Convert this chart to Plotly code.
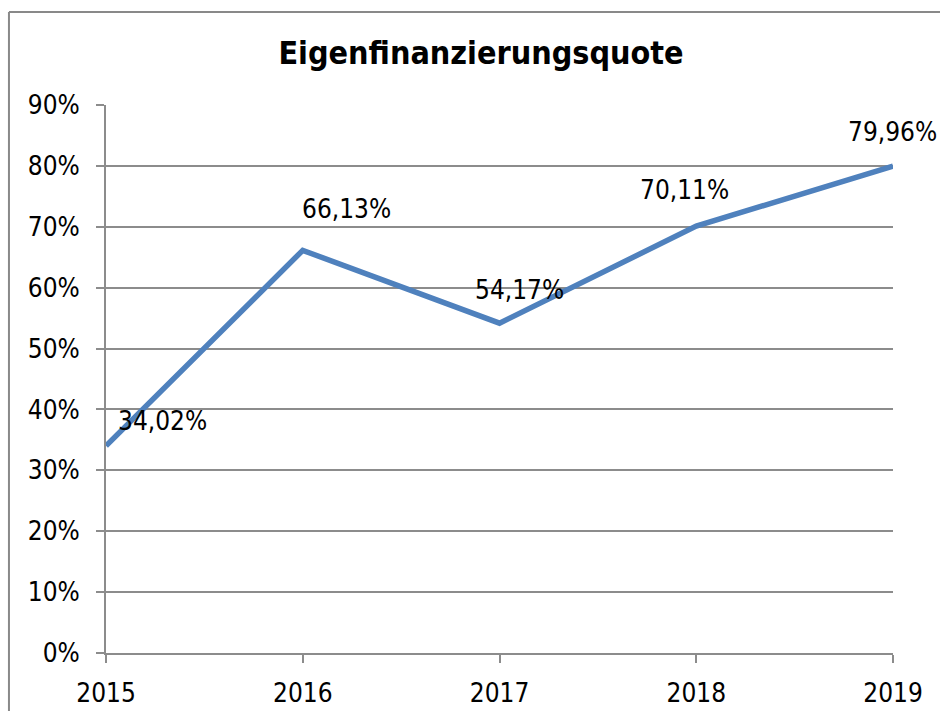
import plotly.graph_objects as go

# Eigenfinanzierungsquote je Jahr (in %)
years = [2015, 2016, 2017, 2018, 2019]
quote = [34.02, 66.13, 54.17, 70.11, 79.96]
y_ticks = [0, 10, 20, 30, 40, 50, 60, 70, 80, 90]
y_tick_labels = [f"{v}%" for v in y_ticks]

# manual placement of the value labels (pixel offsets from each point)
label_dx = [56, 44, 20, -12, -1]
label_dy = [25, 41, 33, 36, 34]

FONT = "DejaVu Sans Condensed, DejaVu Sans, Tahoma, sans-serif"
GRID = "#8c8c8c"

fig = go.Figure()
fig.add_trace(go.Scatter(
    x=years, y=quote, mode="lines",
    line=dict(color="#4F81BD", width=5.5),
    hoverinfo="skip", showlegend=False,
))

for x, y, dx, dy in zip(years, quote, label_dx, label_dy):
    fig.add_annotation(
        x=x, y=y, text=f"{y:.2f}%".replace(".", ","),
        showarrow=False, xshift=dx, yshift=dy,
        xanchor="center", yanchor="middle",
        font=dict(family=FONT, size=26, color="#000000"),
    )

# chart frame (left and top edges)
fig.add_shape(type="line", xref="paper", yref="paper",
              x0=-0.1233, x1=-0.1233, y0=-0.2, y1=1.1697,
              line=dict(color="#898989", width=2))
fig.add_shape(type="line", xref="paper", yref="paper",
              x0=-0.1233, x1=1.2, y0=1.1697, y1=1.1697,
              line=dict(color="#898989", width=2))

fig.update_layout(
    width=940, height=711,
    margin=dict(l=106, r=47, t=105, b=58, autoexpand=False),
    paper_bgcolor="white", plot_bgcolor="white",
    title=dict(
        text="<b>Eigenfinanzierungsquote</b>",
        x=481 / 940, xref="container", xanchor="center",
        y=1 - 53 / 711, yref="container", yanchor="middle",
        font=dict(family=FONT, size=32, color="#000000"),
    ),
    xaxis=dict(
        range=[2015, 2019], tickvals=years, ticktext=[str(v) for v in years],
        showgrid=False, zeroline=False, automargin=False,
        showline=True, linecolor=GRID, linewidth=2,
        ticks="outside", ticklen=8, tickwidth=2, tickcolor=GRID,
        ticklabelstandoff=8,
        tickfont=dict(family=FONT, size=26, color="#000000"),
    ),
    yaxis=dict(
        range=[0, 90], tickvals=y_ticks, ticktext=y_tick_labels,
        showgrid=True, gridcolor=GRID, gridwidth=2, zeroline=False,
        automargin=False,
        showline=True, linecolor=GRID, linewidth=2,
        ticks="outside", ticklen=8, tickwidth=2, tickcolor=GRID,
        ticklabelstandoff=11,
        tickfont=dict(family=FONT, size=26, color="#000000"),
    ),
)

fig.write_html("out.html")
